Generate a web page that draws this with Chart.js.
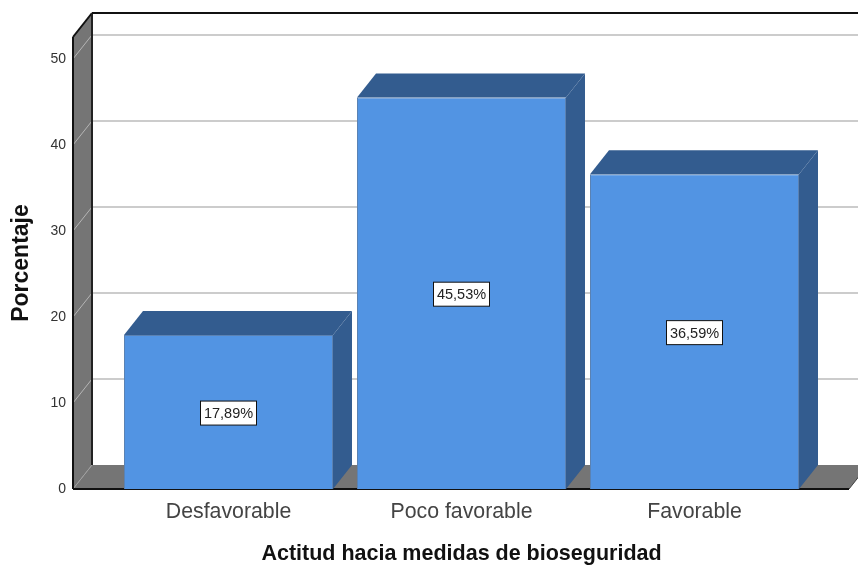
<!DOCTYPE html>
<html lang="es">
<head>
<meta charset="utf-8">
<title>Actitud hacia medidas de bioseguridad</title>
<script src="https://cdn.jsdelivr.net/npm/chart.js@4"></script>
<style>
    html, body { margin: 0; padding: 0; background: #fff; overflow: hidden; }
    canvas { display: block; }
</style>
</head>
<body>
<canvas id="graficoActitud" width="858" height="565"></canvas>
<script>
const categorias = ['Desfavorable', 'Poco favorable', 'Favorable'];
const porcentajes = [17.89, 45.53, 36.59];
const etiquetas = ['17,89%', '45,53%', '36,59%'];
const marcasY = [0, 10, 20, 30, 40, 50];

// desplazamiento de la cara trasera del falso 3D
const fondoX = 19;
const fondoY = 24;
const colorBarra = '#5294E3';
const colorBarraOscuro = '#335C8F';
const colorPared = '#757575';
const colorRejilla = '#CCCCCC';
const fuente = '"Liberation Sans", Arial, sans-serif';

function poligono(ctx, puntos, color) {
    ctx.beginPath();
    puntos.forEach((p, i) => i ? ctx.lineTo(p[0], p[1]) : ctx.moveTo(p[0], p[1]));
    ctx.closePath();
    ctx.fillStyle = color;
    ctx.fill();
}

function linea(ctx, x1, y1, x2, y2, color, ancho) {
    ctx.beginPath();
    ctx.moveTo(x1, y1);
    ctx.lineTo(x2, y2);
    ctx.strokeStyle = color;
    ctx.lineWidth = ancho;
    ctx.stroke();
}

const caja3D = {
    id: 'caja3D',
    beforeDatasetsDraw(chart) {
        const ctx = chart.ctx;
        const area = chart.chartArea;
        const escalaY = chart.scales.y;
        const izq = area.left - 39;
        const der = area.right + 38;
        const base = area.bottom;
        const tope = area.top;

        ctx.save();
        // paredes
        poligono(ctx, [[izq, tope], [izq + fondoX, tope - fondoY], [izq + fondoX, base - fondoY], [izq, base]], colorPared);
        poligono(ctx, [[izq, base], [izq + fondoX, base - fondoY], [der + fondoX, base - fondoY], [der, base]], colorPared);

        // rejilla
        marcasY.filter(v => v > 0).forEach(v => {
            const y = escalaY.getPixelForValue(v);
            linea(ctx, izq, y, izq + fondoX, y - fondoY, '#B5B5B5', 1);
            linea(ctx, izq + fondoX, y - fondoY, der + fondoX, y - fondoY, colorRejilla, 2);
        });
        linea(ctx, izq, base, izq + fondoX, base - fondoY, '#A0A0A0', 1);

        // bordes
        linea(ctx, izq, tope, izq, base, '#111', 2);
        linea(ctx, izq, tope, izq + fondoX, tope - fondoY, '#111', 2);
        linea(ctx, izq + fondoX, tope - fondoY, izq + fondoX, base - fondoY, '#222', 2);
        linea(ctx, izq + fondoX, tope - fondoY, der + fondoX, tope - fondoY, '#111', 2);
        linea(ctx, izq, base, der, base, '#111', 2);
        linea(ctx, der, base, der + fondoX, base - fondoY, '#444', 1);

        // caras superior y lateral de cada barra
        chart.getDatasetMeta(0).data.forEach(barra => {
            const x1 = barra.x - barra.width / 2;
            const x2 = barra.x + barra.width / 2;
            const y = barra.y;
            poligono(ctx, [[x1, y], [x1 + fondoX, y - fondoY], [x2 + fondoX, y - fondoY], [x2, y]], colorBarraOscuro);
            poligono(ctx, [[x2, y], [x2 + fondoX, y - fondoY], [x2 + fondoX, base - fondoY], [x2, base]], colorBarraOscuro);
        });
        ctx.restore();
    },
    afterDatasetsDraw(chart) {
        const ctx = chart.ctx;
        const escalaY = chart.scales.y;
        ctx.save();
        ctx.font = '14.5px ' + fuente;
        ctx.textAlign = 'center';
        ctx.textBaseline = 'middle';
        chart.getDatasetMeta(0).data.forEach((barra, i) => {
            const y = escalaY.getPixelForValue(porcentajes[i] / 2) + 1;
            ctx.fillStyle = '#fff';
            ctx.strokeStyle = '#111';
            ctx.lineWidth = 1;
            ctx.fillRect(barra.x - 28, y - 12, 56, 24);
            ctx.strokeRect(barra.x - 28, y - 12, 56, 24);
            ctx.fillStyle = '#222';
            ctx.fillText(etiquetas[i], barra.x, y + 1);
        });
        ctx.restore();
    }
};

const canvas = document.getElementById('graficoActitud');
const graficoActitud = new Chart(canvas.getContext('2d'), {
    type: 'bar',
    data: {
        labels: categorias,
        datasets: [{
            label: 'Porcentaje',
            data: porcentajes,
            backgroundColor: colorBarra,
            borderColor: '#5B82B3',
            borderWidth: 1,
            barPercentage: 0.897,
            categoryPercentage: 1
        }]
    },
    options: {
        responsive: false,
        animation: false,
        layout: { padding: { top: 37, right: 47 } },
        plugins: {
            legend: { display: false },
            tooltip: { enabled: false }
        },
        scales: {
            x: {
                grid: { display: false },
                border: { display: false },
                ticks: {
                    color: '#444',
                    font: { family: fuente, size: 21.3 },
                    padding: 2,
                    maxRotation: 0
                },
                title: {
                    display: true,
                    text: 'Actitud hacia medidas de bioseguridad',
                    color: '#111',
                    font: { family: fuente, size: 21.5, weight: 'bold', lineHeight: 1 },
                    padding: { top: 0, bottom: 0 }
                },
                afterFit(escala) {
                    escala.height = 76;
                    escala.paddingTop = 0;
                }
            },
            y: {
                min: 0,
                max: 52.55,
                grid: { display: false, drawTicks: false },
                border: { display: false },
                ticks: {
                    color: '#333',
                    font: { family: fuente, size: 14 },
                    padding: 46
                },
                title: {
                    display: true,
                    text: 'Porcentaje',
                    color: '#111',
                    font: { family: fuente, size: 23, weight: 'bold' },
                    padding: { top: 8, bottom: 0 }
                },
                afterBuildTicks(escala) { escala.ticks = marcasY.map(v => ({ value: v })); },
                afterFit(escala) {
                    escala.width = 112;
                    escala.paddingTop = 0;
                    escala.paddingBottom = 0;
                }
            }
        }
    },
    plugins: [caja3D]
});
</script>
</body>
</html>
